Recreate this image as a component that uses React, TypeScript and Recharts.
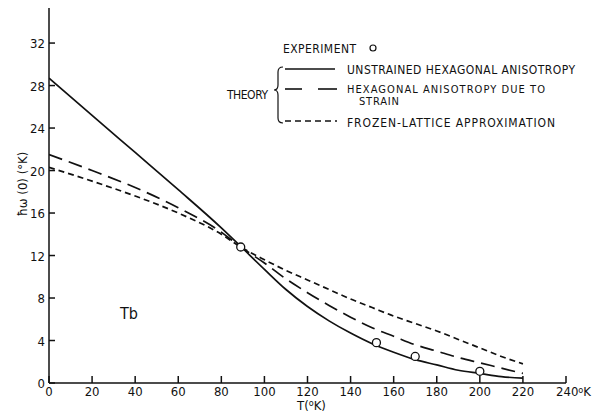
import { ComposedChart, Line, Scatter, XAxis, YAxis } from "recharts";

// temperature grid (°K)
const temps = [0, 20, 40, 60, 80, 89, 100, 110, 120, 130, 140, 150, 160, 170, 180, 190, 200, 210, 220];
// unstrained hexagonal anisotropy
const unstrained = [28.7, 25.2, 21.7, 18.2, 14.6, 12.85, 10.7, 8.8, 7.2, 5.85, 4.7, 3.7, 2.9, 2.2, 1.7, 1.2, 0.9, 0.6, 0.45];
// hexagonal anisotropy due to strain
const strain = [21.5, 20.0, 18.4, 16.5, 14.2, 12.8, 11.3, 9.8, 8.5, 7.3, 6.2, 5.2, 4.4, 3.6, 3.0, 2.4, 1.9, 1.4, 0.9];
// frozen-lattice approximation
const frozen = [20.3, 19.0, 17.6, 16.0, 14.0, 12.8, 11.6, 10.6, 9.7, 8.8, 7.9, 7.1, 6.3, 5.6, 4.9, 4.1, 3.3, 2.5, 1.8];

const expT = [89, 152, 170, 200];
const expW = [12.8, 3.8, 2.5, 1.1];

const xTicks = [0, 20, 40, 60, 80, 100, 120, 140, 160, 180, 200, 220, 240];
const yTicks = [0, 4, 8, 12, 16, 20, 24, 28, 32];

const data = temps.map((t, i) => ({ t, a: unstrained[i], b: strain[i], c: frozen[i] }));
const expData = expT.map((t, i) => ({ t, w: expW[i] }));

const FONT = "'DejaVu Sans Condensed', 'DejaVu Sans', sans-serif";
const INK = "#111";

const XTick = ({ x, y, payload }: any) => {
  const v = payload.value;
  return (
    <text x={v === 240 ? x - 10 : x} y={y + 10} fontSize={13} fontFamily={FONT} fill={INK}
      textAnchor={v === 240 ? "start" : "middle"}>
      {v}
      {v === 240 && <tspan dy={-3} fontSize={9}>o</tspan>}
      {v === 240 && <tspan dy={3}>K</tspan>}
    </text>
  );
};

const YTick = ({ x, y, payload }: any) => (
  <text x={x} y={y + 5} fontSize={13} fontFamily={FONT} fill={INK} textAnchor="end">
    {payload.value}
  </text>
);

export default function App() {
  return (
    <div style={{ position: "absolute", left: 0, top: 0, width: 592, height: 414, background: "#fff" }}>
      <ComposedChart width={592} height={414} data={data}
        margin={{ top: 8, right: 26, left: 0, bottom: 0 }}>
        <XAxis dataKey="t" type="number" domain={[0, 240]} ticks={xTicks} height={31}
          tickSize={-7} tickMargin={10} tick={<XTick />} stroke={INK} strokeWidth={1.5}
          allowDataOverflow />
        <YAxis type="number" domain={[0, 35.3]} ticks={yTicks} width={49}
          tickSize={-6} tickMargin={10} tick={<YTick />} stroke={INK} strokeWidth={1.5}
          allowDataOverflow />
        <Line dataKey="a" type="monotone" stroke={INK} strokeWidth={1.7} dot={false} isAnimationActive={false} />
        <Line dataKey="b" type="monotone" stroke={INK} strokeWidth={1.7} strokeDasharray="14 7" dot={false} isAnimationActive={false} />
        <Line dataKey="c" type="monotone" stroke={INK} strokeWidth={1.7} strokeDasharray="6 4" dot={false} isAnimationActive={false} />
        <Scatter data={expData} dataKey="w" isAnimationActive={false}
          shape={(p: any) => <circle cx={p.cx} cy={p.cy} r={4} fill="#fff" stroke={INK} strokeWidth={1.3} />} />
      </ComposedChart>
      <svg width={592} height={414} style={{ position: "absolute", left: 0, top: 0, pointerEvents: "none" }}
        fontFamily={FONT} fill={INK}>
        <text x={283} y={53} fontSize={12} textLength={73}>EXPERIMENT</text>
        <circle cx={373} cy={48} r={3} fill="#fff" stroke={INK} strokeWidth={1.2} />
        <text x={227} y={99} fontSize={12} textLength={41}>THEORY</text>
        <path d="M283 67 Q278 67 278 72 L278 85 Q278 90 274 90 Q278 90 278 95 L278 118 Q278 123 283 123"
          fill="none" stroke={INK} strokeWidth={1.2} />
        <line x1={285} y1={69} x2={335} y2={69} stroke={INK} strokeWidth={1.6} />
        <text x={347} y={74} fontSize={12} textLength={228}>UNSTRAINED HEXAGONAL ANISOTROPY</text>
        <line x1={285} y1={89} x2={302} y2={89} stroke={INK} strokeWidth={1.6} />
        <line x1={318} y1={89} x2={337} y2={89} stroke={INK} strokeWidth={1.6} />
        <text x={347} y={93} fontSize={11} textLength={198}>HEXAGONAL ANISOTROPY DUE TO</text>
        <text x={359} y={105} fontSize={11} textLength={40}>STRAIN</text>
        <line x1={285} y1={121} x2={337} y2={121} stroke={INK} strokeWidth={1.6} strokeDasharray="6 4" />
        <text x={347} y={127} fontSize={12} textLength={208}>FROZEN-LATTICE APPROXIMATION</text>
        <text x={120} y={319} fontSize={16}>Tb</text>
        <text x={297} y={410} fontSize={13}>T(<tspan dy={-4} fontSize={9}>o</tspan><tspan dy={4}>K)</tspan></text>
        <text transform="translate(27 184) rotate(-90)" fontSize={13} textAnchor="middle">
          ħω (0) (°K)
        </text>
      </svg>
    </div>
  );
}
